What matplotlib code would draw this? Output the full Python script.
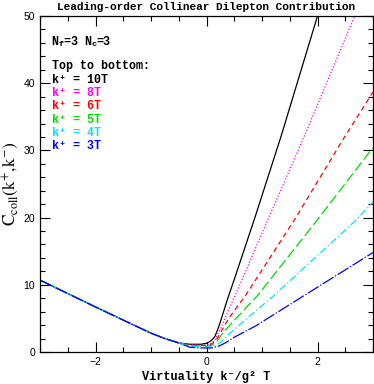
import matplotlib
matplotlib.use("Agg")
import matplotlib.pyplot as plt
from matplotlib.ticker import MultipleLocator
from matplotlib import transforms

# ---- data ----
left_x = [-3.0, -2.5, -2.0, -1.5, -1.0, -0.75, -0.5]
left_y = [10.7, 8.7, 6.7, 4.75, 2.8, 2.0, 1.35]

x_10T = [-0.3, -0.1, 0.0, 0.05, 0.1, 0.15, 0.2, 0.25, 0.3, 0.38, 0.5, 0.86, 1.34, 2.0, 2.1]
y_10T = [1.15, 1.15, 1.3, 1.5, 1.8, 2.3, 3.3, 4.5, 5.8, 7.9, 10.8, 19.7, 32.0, 50.0, 52.7]

x_8T = [-0.3, -0.1, 0.0, 0.1, 0.15, 0.2, 0.3, 0.47, 0.6, 1.1, 1.73, 2.67, 2.8]
y_8T = [1.05, 1.0, 1.05, 1.35, 1.8, 2.6, 4.4, 7.6, 10.0, 19.6, 31.5, 50.0, 52.5]

x_6T = [-0.3, 0.0, 0.1, 0.2, 0.26, 0.4, 0.71, 1.58, 2.45, 3.0]
y_6T = [1.0, 0.95, 1.2, 2.1, 3.0, 5.0, 8.5, 19.6, 31.5, 38.7]

x_5T = [-0.3, 0.0, 0.1, 0.2, 0.29, 0.5, 0.93, 2.0, 2.96, 3.0]
y_5T = [0.95, 0.85, 1.0, 1.7, 2.8, 4.7, 8.5, 19.7, 30.0, 30.4]

x_4T = [-0.3, 0.0, 0.1, 0.2, 0.3, 0.41, 0.7, 1.2, 2.69, 3.0]
y_4T = [0.85, 0.75, 0.8, 1.1, 1.8, 2.7, 4.8, 8.3, 19.6, 22.3]

x_3T = [-0.3, -0.1, 0.1, 0.23, 0.35, 0.5, 0.89, 1.7, 3.0]
y_3T = [0.7, 0.6, 0.6, 0.9, 1.4, 2.2, 3.9, 8.1, 14.8]

labels = ["k\u207a = 10T", "k\u207a = 8T", "k\u207a = 6T", "k\u207a = 5T", "k\u207a = 4T", "k\u207a = 3T"]
colors = ["black", "#ff00ff", "#ff0000", "#00dd00", "#00e5ff", "#0000ff"]
styles = ["-", (0, (1, 1.5)), (0, (4, 3)), (0, (8, 3)), (0, (6, 2, 1, 2)), (0, (10, 1.5, 1, 1.5))]

curves = [(x_10T, y_10T), (x_8T, y_8T), (x_6T, y_6T), (x_5T, y_5T), (x_4T, y_4T), (x_3T, y_3T)]

mono = ["Liberation Mono", "DejaVu Sans Mono"]
plt.rcParams["mathtext.fontset"] = "stix"

fig = plt.figure(figsize=(3.74, 3.84), dpi=100)
ax = fig.add_axes([40/374, 32/384, 333/374, 336/384])

for (xs, ys), c, ls in zip(curves, colors, styles):
    ax.plot(left_x + xs, left_y + ys, color=c, linestyle=ls, linewidth=0.9)

ax.set_xlim(-3, 3)
ax.set_ylim(0, 50)
ax.xaxis.set_major_locator(MultipleLocator(2))
ax.xaxis.set_minor_locator(MultipleLocator(0.5))
ax.yaxis.set_major_locator(MultipleLocator(10))
ax.yaxis.set_minor_locator(MultipleLocator(2))
ax.tick_params(which="both", direction="in", top=True, right=True, labelsize=7.5, width=0.8)
ax.tick_params(which="major", length=7)
ax.tick_params(which="minor", length=3.5)
for lab in ax.get_xticklabels() + ax.get_yticklabels():
    lab.set_family("Liberation Sans")
for s in ax.spines.values():
    s.set_linewidth(0.9)

ax.set_title("Leading-order Collinear Dilepton Contribution", family=mono, fontsize=8.0,
             weight="bold", pad=4)
ax.set_xlabel("Virtuality k\u207b/g\u00b2 T", family=mono, fontsize=8.6, weight="bold", labelpad=3)
ax.set_ylabel(r"C$_{\rm coll}$(k$^{+}$,k$^{-}$)", family="STIXGeneral", fontsize=12.5, va="center")
ax.yaxis.set_label_coords(-0.087, 0.5)

# N_f=3 N_c=3 built from pieces in monospace
y0 = 0.923
def piece(txt, x_px, y_px, size):
    tr = transforms.offset_copy(ax.transAxes, fig=fig, x=x_px * 72 / 100, y=y_px * 72 / 100, units="points")
    ax.text(0.035, y0, txt, transform=tr, family=mono, fontsize=size, weight="bold",
            va="center", ha="left")
piece("N", 0, 0, 8.5)
piece("f", 7, -3, 6)
piece("=3 N", 12, 0, 8.5)
piece("c", 40, -3, 6)
piece("=3", 45, 0, 8.5)

ax.text(0.035, 0.851, "Top to bottom:", transform=ax.transAxes, family=mono, fontsize=8.4,
        weight="bold", va="center", ha="left")
for i, (lab, c) in enumerate(zip(labels, colors)):
    ax.text(0.035, 0.810 - i * 0.0396, lab, transform=ax.transAxes, family=mono, fontsize=8.4,
            weight="bold", color=c, va="center", ha="left")

fig.savefig("out.png", dpi=100)
